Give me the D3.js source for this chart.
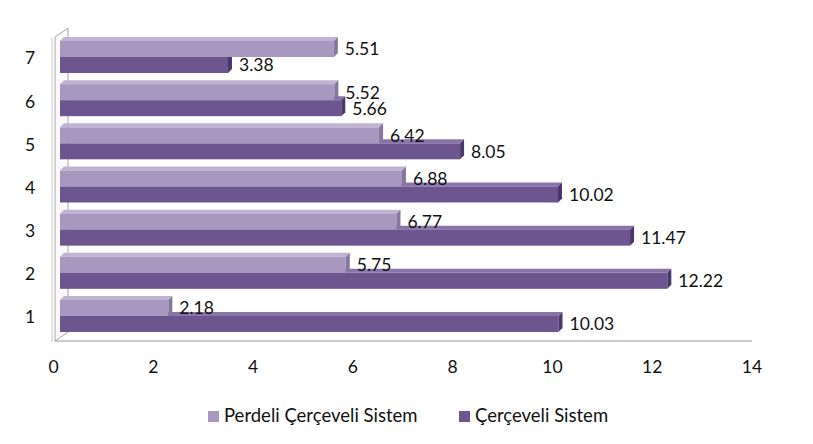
<!DOCTYPE html>
<html>
<head>
<meta charset="utf-8">
<script src="https://cdn.jsdelivr.net/npm/d3@7"></script>
<style>
  body { margin: 0; background: #fff; }
  text { font-family: Lato, "Open Sans", sans-serif; fill: #111; }
</style>
</head>
<body>
<svg id="grafico" width="813" height="444"></svg>
<script>
const categorias = ["1", "2", "3", "4", "5", "6", "7"];
const series = ["Perdeli Çerçeveli Sistem", "Çerçeveli Sistem"];
const perdeli = [2.18, 5.75, 6.77, 6.88, 6.42, 5.52, 5.51];
const cerceveli = [10.03, 12.22, 11.47, 10.02, 8.05, 5.66, 3.38];
const ticks = [0, 2, 4, 6, 8, 10, 12, 14];

const colores = {
  "Perdeli Çerçeveli Sistem": {cara: "#a898c0", arriba: "#bfb2d3", lado: "#85779f"},
  "Çerçeveli Sistem": {cara: "#6d5590", arriba: "#8874a7", lado: "#4b3868"}
};

const svg = d3.select("#grafico");
const dx = 4, dy = 4;

// escala de barras y escala del eje (plano frontal)
const x = d3.scaleLinear().domain([0, 14]).range([60, 60 + 14 * 49.7]);
const xEje = d3.scaleLinear().domain([0, 14]).range([53.5, 752]);
const y = d3.scaleBand().domain(categorias.slice().reverse()).range([35.4, 337.6])
  .paddingInner(0.259).paddingOuter(0.13);
const ySub = d3.scaleBand().domain(series).range([0, y.bandwidth()]);

// paredes
const paredes = svg.append("g").attr("fill", "none").attr("stroke", "#a6a6a6").attr("stroke-width", 1);
paredes.append("path").attr("fill", "#fafafa")
  .attr("d", "M55,37 L68,28 L68,332 L55,341 Z");
paredes.append("line").attr("x1", 55).attr("y1", 341).attr("x2", 752).attr("y2", 341)
  .attr("stroke", "#999");
paredes.append("line").attr("x1", 52).attr("y1", 38).attr("x2", 52).attr("y2", 342)
  .attr("stroke", "#c8c8c8");

const datos = [];
categorias.forEach((c, i) => {
  datos.push({cat: c, serie: series[1], v: cerceveli[i]});
  datos.push({cat: c, serie: series[0], v: perdeli[i]});
});

// orden: de abajo hacia arriba, oscuro antes que claro
const orden = datos.slice().sort((a, b) => (+a.cat - +b.cat) || (a.serie === series[1] ? -1 : 1));

const barras = svg.append("g");
orden.forEach(d => {
  const x0 = x(0), x1 = x(d.v);
  const y0 = y(d.cat) + ySub(d.serie), y1 = y0 + ySub.bandwidth();
  const col = colores[d.serie];
  const g = barras.append("g");
  g.append("path").attr("fill", col.arriba)
    .attr("d", `M${x0},${y0} L${x0 + dx},${y0 - dy} L${x1 + dx},${y0 - dy} L${x1},${y0} Z`);
  g.append("rect").attr("x", x0).attr("y", y0).attr("width", x1 - x0).attr("height", y1 - y0)
    .attr("fill", col.cara);
  g.append("path").attr("fill", col.lado)
    .attr("d", `M${x1},${y0} L${x1 + dx},${y0 - dy} L${x1 + dx},${y1 - dy} L${x1},${y1} Z`);
});

// etiquetas de valores
svg.append("g").selectAll("text")
  .data(datos)
  .enter()
  .append("text")
  .attr("x", d => x(d.v) + dx + 7)
  .attr("y", d => y(d.cat) + ySub(d.serie) + ySub.bandwidth() / 2 + 2)
  .attr("dominant-baseline", "middle")
  .attr("font-size", 17.5)
  .text(d => d.v.toFixed(2));

// eje x
svg.append("g").selectAll("text")
  .data(ticks)
  .enter()
  .append("text")
  .attr("x", d => xEje(d))
  .attr("y", 369)
  .attr("text-anchor", "middle")
  .attr("dominant-baseline", "middle")
  .attr("font-size", 17.5)
  .text(d => d);

// eje y
svg.append("g").selectAll("text")
  .data(categorias)
  .enter()
  .append("text")
  .attr("x", 30)
  .attr("y", d => y(d) + y.bandwidth() / 2 + 3)
  .attr("text-anchor", "middle")
  .attr("dominant-baseline", "middle")
  .attr("font-size", 17.5)
  .text(d => d);

// leyenda
const leyenda = svg.append("g");
const posLeyenda = [208, 459];
series.forEach((s, i) => {
  leyenda.append("rect").attr("x", posLeyenda[i]).attr("y", 411).attr("width", 11).attr("height", 11)
    .attr("fill", colores[s].cara);
  leyenda.append("text").attr("x", posLeyenda[i] + 16).attr("y", 417)
    .attr("dominant-baseline", "middle").attr("font-size", 18.5).text(s);
});
</script>
</body>
</html>
